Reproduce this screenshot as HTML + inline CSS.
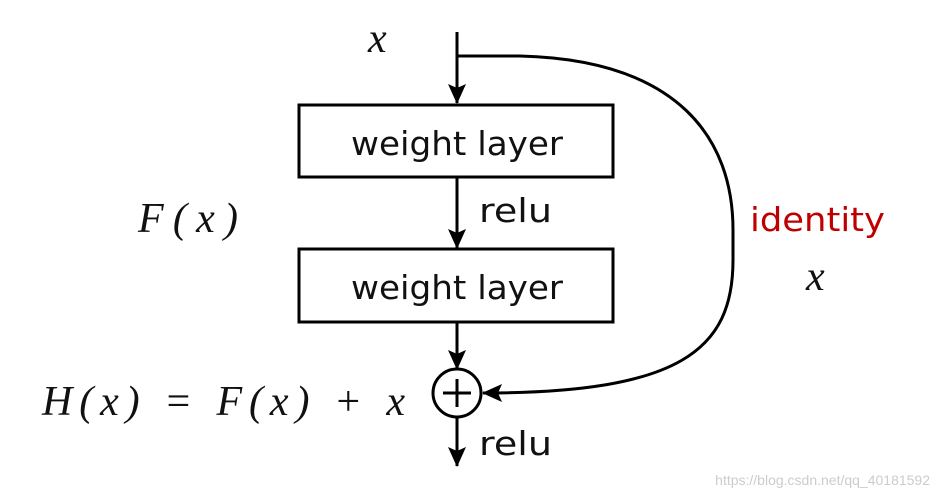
<!DOCTYPE html>
<html><head><style>
body{margin:0;background:#fff;width:942px;height:493px;overflow:hidden}
</style></head><body>
<svg width="942" height="493" viewBox="0 0 942 493" xmlns="http://www.w3.org/2000/svg">
<defs><marker id="a" markerWidth="20" markerHeight="20" refX="19" refY="9" orient="auto" markerUnits="userSpaceOnUse"><path d="M0,0 L20,9 L0,18 L4,9 Z" fill="#000"/></marker></defs>
<g stroke="#000" stroke-width="3" fill="none">
<line x1="457" y1="32" x2="457" y2="103" marker-end="url(#a)"/>
<line x1="457" y1="178" x2="457" y2="248" marker-end="url(#a)"/>
<line x1="457" y1="323" x2="457" y2="369" marker-end="url(#a)"/>
<line x1="457" y1="418" x2="457" y2="466" marker-end="url(#a)"/>
<rect x="299" y="105" width="314" height="72"/>
<rect x="299" y="249" width="314" height="73"/>
<circle cx="457" cy="393" r="24"/>
<line x1="443" y1="393" x2="471" y2="393"/>
<line x1="457" y1="379" x2="457" y2="407"/>
<path d="M457,56 L520,56 C680,60 733,140 733,230 L733,260 C733,350 680,393 483,393" marker-end="url(#a)"/>
</g>
<g font-family="'DejaVu Sans','Liberation Sans',sans-serif" font-size="33" fill="#111">
<text x="351" y="155" textLength="212" lengthAdjust="spacingAndGlyphs">weight layer</text>
<text x="351" y="299" textLength="212" lengthAdjust="spacingAndGlyphs">weight layer</text>
<text x="479" y="222" textLength="73" lengthAdjust="spacingAndGlyphs">relu</text>
<text x="479" y="455" textLength="73" lengthAdjust="spacingAndGlyphs">relu</text>
<text x="750" y="231" fill="#c00000" textLength="135" lengthAdjust="spacingAndGlyphs">identity</text>
</g>
<g font-family="'Liberation Serif','DejaVu Serif',serif" font-style="italic" font-size="42" fill="#111">
<text x="368" y="52">x</text>
<text x="138" y="232" textLength="100" lengthAdjust="spacing">F(x)</text>
<text x="806" y="290">x</text>
<text x="42" y="415" textLength="363" lengthAdjust="spacing">H(x) = F(x) + x</text>
</g>
<text x="930" y="485" text-anchor="end" font-family="'Liberation Sans',sans-serif" font-size="14" fill="#ccc">https://blog.csdn.net/qq_40181592</text>
</svg>
</body></html>
